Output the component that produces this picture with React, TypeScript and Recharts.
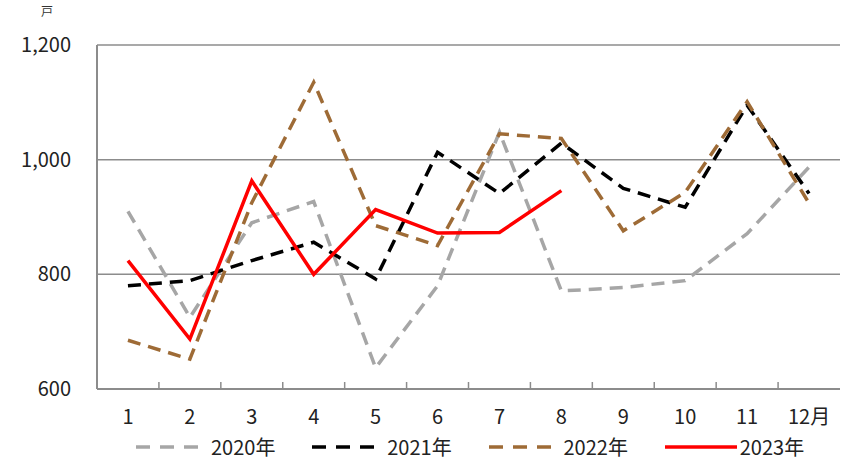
import React from 'react';
import { LineChart, Line, XAxis, YAxis, CartesianGrid, Legend } from 'recharts';

const months = ['1', '2', '3', '4', '5', '6', '7', '8', '9', '10', '11', '12月'];
const s2020 = [910, 725, 890, 927, 637, 780, 1048, 771, 777, 789, 871, 987];
const s2021 = [780, 789, 824, 856, 792, 1013, 941, 1029, 950, 917, 1095, 941];
const s2022 = [685, 652, 925, 1135, 885, 850, 1045, 1037, 876, 943, 1101, 924];
const s2023 = [824, 687, 963, 800, 913, 872, 873, 946];
const yTicks = [600, 800, 1000, 1200];
const seriesNames = ['2020年', '2021年', '2022年', '2023年'];

const data = months.map((m, i) => ({
  month: m,
  y2020: s2020[i],
  y2021: s2021[i],
  y2022: s2022[i],
  y2023: i < s2023.length ? s2023[i] : null,
}));

const FONT = '"Noto Sans CJK JP", "Noto Sans", sans-serif';
const W = 841;
const H = 461;
const LEFT = 97;
const RIGHT_M = 1;
const TOP = 45;
const BW = (W - LEFT - RIGHT_M) / 12;
const TM = 19;

const colors = ['#A6A6A6', '#000000', '#9E6B36', '#FF0000'];
const dashes = ['13 8', '13 8', '13 8', undefined];

const XTick = (props: any) => {
  const { x, y, payload } = props;
  const idx = payload && typeof payload.index === 'number' ? payload.index : props.index;
  return (
    <g>
      {idx < 11 && (
        <line x1={x + BW / 2} x2={x + BW / 2} y1={y - TM} y2={y - TM - 7} stroke="#8c8c8c" strokeWidth={1.5} />
      )}
      <text x={x} y={y} dy="0.8em" textAnchor="middle" fontSize={20} fill="#222" fontFamily={FONT}>
        {payload.value}
      </text>
    </g>
  );
};

const LegendContent = () => (
  <div style={{ display: 'flex', alignItems: 'center', paddingLeft: 136, fontFamily: FONT }}>
    {seriesNames.map((n, i) => (
      <div key={n} style={{ display: 'flex', alignItems: 'center', width: 179 }}>
        <svg width={72} height={10}>
          <line x1={0} x2={72} y1={5} y2={5} stroke={colors[i]} strokeWidth={3.5} strokeDasharray={dashes[i] ? '14 10' : undefined} />
        </svg>
        <span style={{ marginLeft: 3, fontSize: 20, color: '#222', lineHeight: '24px' }}>{n}</span>
      </div>
    ))}
  </div>
);

export default function App() {
  return (
    <div style={{ position: 'absolute', left: 0, top: 0, width: W, height: H, fontFamily: FONT, background: '#fff' }}>
      <div style={{ position: 'absolute', left: 41, top: 2, fontSize: 12, color: '#333', fontFamily: FONT }}>戸</div>
      <LineChart width={W} height={H} data={data} margin={{ top: TOP, right: RIGHT_M, bottom: 0, left: 0 }}>
        <CartesianGrid vertical={false} stroke="#8c8c8c" strokeWidth={1.5} />
        <XAxis
          dataKey="month"
          height={48}
          padding={{ left: BW / 2, right: BW / 2 }}
          axisLine={{ stroke: '#8c8c8c', strokeWidth: 2 }}
          tickLine={false}
          tickSize={0}
          tickMargin={TM}
          tick={<XTick />}
          interval={0}
        />
        <YAxis
          width={LEFT}
          domain={[600, 1200]}
          ticks={yTicks}
          allowDataOverflow
          axisLine={{ stroke: '#8c8c8c', strokeWidth: 2 }}
          tickLine={false}
          tickSize={0}
          tickMargin={26}
          tickFormatter={(v: number) => v.toLocaleString('en-US')}
          tick={{ fontSize: 20, fill: '#222', fontFamily: FONT }}
        />
        <Legend content={<LegendContent />} wrapperStyle={{ left: 0, top: 435, width: W }} />
        <Line dataKey="y2020" name={seriesNames[0]} stroke={colors[0]} strokeWidth={3.5} strokeDasharray={dashes[0]} dot={false} isAnimationActive={false} />
        <Line dataKey="y2021" name={seriesNames[1]} stroke={colors[1]} strokeWidth={3.5} strokeDasharray={dashes[1]} dot={false} isAnimationActive={false} />
        <Line dataKey="y2022" name={seriesNames[2]} stroke={colors[2]} strokeWidth={3.5} strokeDasharray={dashes[2]} dot={false} isAnimationActive={false} />
        <Line dataKey="y2023" name={seriesNames[3]} stroke={colors[3]} strokeWidth={3.5} dot={false} isAnimationActive={false} />
      </LineChart>
    </div>
  );
}
